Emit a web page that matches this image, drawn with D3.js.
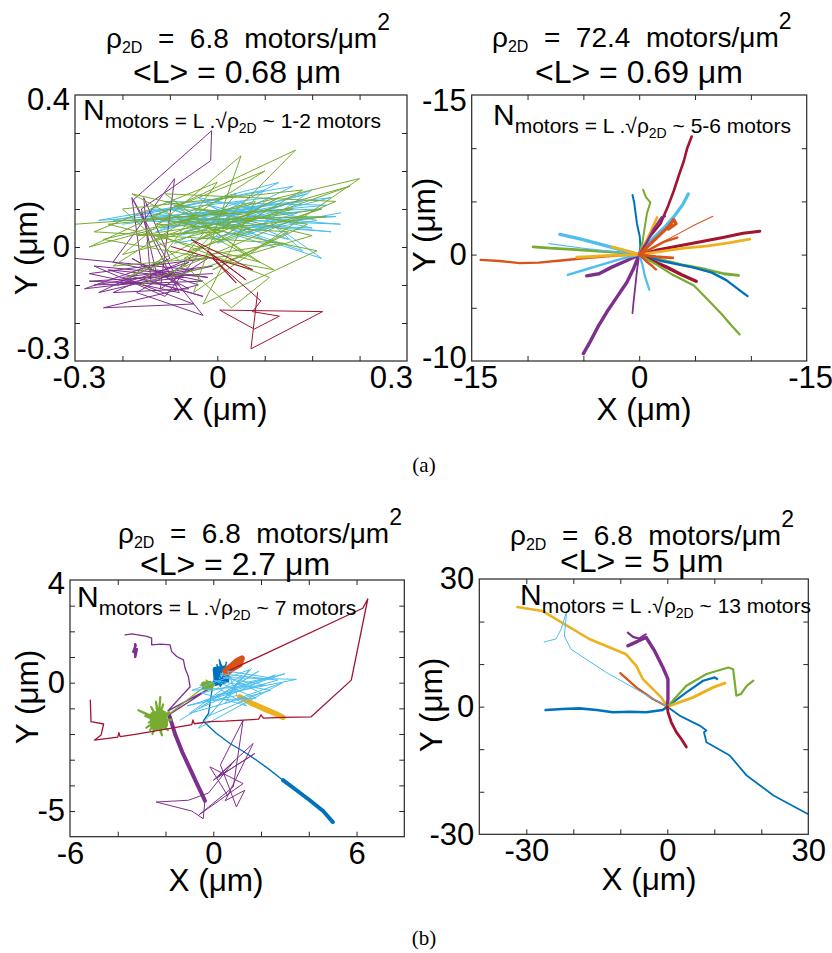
<!DOCTYPE html>
<html><head><meta charset="utf-8">
<script src="https://cdn.jsdelivr.net/npm/d3@7"></script>
<style>
html,body{margin:0;padding:0;background:#fff;}
svg{display:block;}
text{font-family:"Liberation Sans",Arial,Helvetica,sans-serif;fill:#000;white-space:pre;}
.cap{font-family:"Liberation Serif","Times New Roman",Times,serif;}
</style></head><body>
<svg id="fig" width="832" height="953"></svg>
<script>
// ---------- panel annotations ----------
const densities   = ["6.8", "72.4", "6.8", "6.8"];      // motors/μm²
const meanLengths = ["0.68", "0.69", "2.7", "5"];        // μm
const motorCounts = ["1-2", "5-6", "7", "13"];
const captions    = ["(a)", "(b)"];

// ---------- axes ----------
const xDomains = [[-0.3, 0.4], [-15, 15], [-6, 8], [-40, 30]];
const yDomains = [[-0.3, 0.4], [-10, 15], [-6, 4], [-30, 30]];
const xTicks = [[-0.2,-0.1,0,0.1,0.2,0.3], [-10,-5,0,5,10], [-4,-2,0,2,4,6], [-30,-20,-10,0,10,20]];
const yTicks = [[-0.2,-0.1,0,0.1,0.2,0.3], [-5,0,5,10], [-5,-4,-3,-2,-1,0,1,2,3], [-20,-10,0,10,20]];
const xTickLabels = [["-0.3","0","0.3"], ["-15","0","-15"], ["-6","0","6"], ["-30","0","30"]];
const xTickLabelAt = [[-0.292,0,0.366], [-14.7,0,15.3], [-6,0,6], [-30,0,30]];
const yTickLabels = [["-0.3","0","0.4"], ["-10","0","-15"], ["-5","0","4"], ["-30","0","30"]];
const yTickLabelAt = [[-0.266,0,0.387], [-9.7,0,14.5], [-5,0,3.88], [-30,0,30]];

// ---------- trajectories (x, y in μm) ----------
// panel 1: ρ = 6.8, <L> = 0.68 μm
const p1Cyan = [[-0.20,0.06],[0.18,0.12],[-0.12,0.05],[0.22,0.10],[-0.05,0.09],[0.26,0.06],[-0.15,0.08],[0.13,0.17],[-0.08,0.03],[0.24,0.13],[-0.18,0.07],[0.20,0.05],[-0.02,0.11],[0.15,0.02],[-0.10,0.10],[0.22,-0.03],[0.05,0.12],[-0.13,0.04],[0.19,0.14],[-0.06,0.06],[0.25,0.08],[-0.22,0.07],[0.10,0.15],[-0.01,0.02],[0.17,0.09],[-0.14,0.10],[0.12,0.00],[-0.04,0.13],[0.21,0.07],[-0.09,0.01],[0.16,0.16],[-0.25,0.07],[0.08,0.10],[0.18,-0.01],[-0.03,0.08],[0.23,0.11],[-0.11,0.12],[0.06,0.03],[0.20,0.15],[-0.07,0.04],[0.14,0.11],[0.02,0.06],[0.24,0.04],[-0.16,0.09],[0.11,0.13],[0.00,0.01],[0.19,0.08],[-0.12,0.07],[0.09,0.05],[0.26,0.09]];
const p1Purple = [[-0.30,-0.03],[-0.05,-0.06],[-0.26,-0.10],[-0.03,-0.09],[-0.22,-0.04],[-0.09,0.18],[-0.12,-0.11],[-0.02,-0.03],[-0.27,-0.07],[-0.08,-0.12],[-0.18,0.13],[-0.16,-0.05],[-0.04,-0.10],[-0.24,-0.16],[-0.05,-0.15],[-0.20,-0.08],[-0.01,-0.05],[-0.25,-0.12],[-0.10,-0.03],[-0.155,0.13],[-0.14,-0.09],[-0.03,-0.13],[-0.23,-0.06],[-0.07,-0.08],[-0.28,-0.11],[-0.12,-0.04],[-0.03,-0.18],[-0.17,-0.12],[-0.06,-0.04],[-0.21,-0.10],[-0.09,-0.07],[-0.177,0.124],[-0.012,0.306],[-0.014,0.227],[-0.16,0.10],[-0.13,-0.06],[-0.02,-0.08],[-0.26,-0.05],[-0.11,-0.13],[-0.04,-0.02],[-0.22,-0.12],[-0.06,-0.11],[-0.18,-0.03],[-0.08,-0.10],[-0.27,-0.09],[-0.01,-0.07]];
const p1Green = [[-0.30,0.06],[0.16,0.10],[-0.20,-0.02],[0.05,0.24],[-0.05,-0.12],[0.30,0.18],[-0.24,0.02],[0.12,-0.06],[-0.18,0.14],[0.20,0.03],[-0.10,-0.08],[0.165,0.255],[-0.27,0.00],[0.08,0.12],[-0.03,-0.15],[0.21,-0.01],[-0.14,0.08],[0.10,0.20],[-0.22,-0.05],[0.06,-0.02],[-0.11,0.14],[0.25,0.12],[-0.16,-0.10],[0.00,0.17],[-0.26,0.04],[0.14,0.01],[-0.07,-0.03],[0.18,0.15],[-0.20,0.10],[0.03,-0.16],[0.11,-0.08],[-0.12,0.03],[0.23,0.08],[-0.08,0.07],[0.07,0.05],[-0.19,-0.08],[0.13,0.13],[-0.04,0.02],[0.28,0.16],[-0.15,0.01],[0.02,0.09],[-0.23,0.06],[0.09,-0.04],[-0.09,0.11],[0.19,0.06],[-0.01,-0.06],[0.15,0.04],[-0.13,0.06],[0.04,0.14],[-0.06,-0.01],[0.22,0.10],[-0.17,0.03],[0.01,0.04]];
const p1Red = [[-0.097,0.001],[0.075,-0.06],[-0.055,0.02],[0.061,-0.087],[-0.02,-0.01],[0.04,-0.095],[-0.01,-0.03],[0.092,-0.142],[0.074,-0.17],[0.131,-0.182],[0.078,-0.216],[0.005,-0.166],[0.222,-0.17],[0.071,-0.268],[0.085,-0.12]];

// panel 2: ρ = 72.4, <L> = 0.69 μm (radial runs from the origin)
const p2RedNE = [[0,0],[0.8,1.5],[1.9,2.9],[2.6,4.6],[3.1,6.0],[3.6,7.6],[4.0,8.8],[4.3,10.0],[4.7,11.1]];
const p2CyanNE = [[0,0],[1.2,1.5],[2.3,2.6],[3.2,3.7],[3.9,4.7],[4.4,5.7]];
const p2BlueN = [[0,0],[0.1,0.8],[0.05,1.7],[-0.2,2.9],[-0.35,4.1],[-0.45,4.9],[-0.6,5.6]];
const p2GreenN = [[0,0],[0.3,1.2],[0.5,2.6],[0.7,3.9],[1.0,4.9],[0.6,5.4],[0.35,6.1]];
const p2YellowNE = [[0,0],[0.6,1.2],[1.1,2.3],[1.6,3.5]];
const p2PurpleNE = [[0,0],[0.7,1.2],[1.3,2.4],[2.0,3.5],[2.3,3.6]];
const p2OrangeNE = [[0,0],[0.9,0.9],[1.8,1.8],[2.6,2.6],[3.1,3.3],[3.3,2.9],[2.6,2.4]];
const p2OrangeNE2 = [[0,0],[1.6,0.9],[3.4,1.9],[5.0,2.8],[6.6,3.6]];
const p2OrangeNE3 = [[0,0],[1.0,0.5],[2.2,1.2],[3.4,1.6]];
const p2RedE = [[0,0],[1.5,0.4],[3.5,0.8],[5.5,1.2],[7.5,1.6],[9.3,2.0],[10.8,2.2]];
const p2YellowE = [[0,0],[2.0,0.3],[4.0,0.6],[6.0,0.8],[8.0,1.1],[9.9,1.45]];
const p2GreenE = [[0,0],[2.0,-0.5],[4.0,-1.0],[6.0,-1.4],[7.6,-1.8],[8.9,-1.95]];
const p2BlueESE = [[0,0],[2.0,-0.6],[4.8,-1.2],[6.5,-1.7],[7.8,-2.4],[8.8,-3.2],[9.7,-3.9]];
const p2RedSE = [[0,0],[1.2,-0.6],[2.5,-1.2],[3.8,-1.9],[5.1,-2.5]];
const p2GreenSE = [[0,0],[1.5,-0.9],[3.0,-1.9],[4.9,-2.9],[6.3,-4.4],[7.4,-5.6],[8.2,-6.6],[9.0,-7.5]];
const p2OrangeSE = [[0,0],[0.6,-0.6],[1.2,-1.1],[1.5,-1.4]];
const p2OrangeE = [[0,0],[1.5,-0.2],[3.0,-0.3]];
const p2PurpleSW = [[0,0],[-0.5,-1.3],[-1.1,-2.6],[-2.0,-4.0],[-2.9,-5.4],[-3.7,-6.8],[-4.4,-8.2],[-5.0,-9.3]];
const p2PurpleS = [[0,0],[-0.2,-1.5],[-0.35,-3.0],[-0.5,-4.4],[-0.6,-5.5]];
const p2CyanS = [[0,0],[0.3,-1.0],[0.5,-2.0],[0.75,-2.8],[0.9,-3.3]];
const p2PurpleWSW = [[0,0],[-1.2,-0.6],[-2.5,-1.2],[-3.6,-1.8],[-4.7,-2.0]];
const p2CyanWSW = [[0,0],[-1.6,-0.4],[-3.2,-0.9],[-4.8,-1.4],[-6.4,-1.9]];
const p2OrangeW = [[0,0],[-2.0,-0.1],[-4.5,-0.3],[-7.0,-0.55],[-9.0,-0.75],[-10.7,-0.8],[-12.5,-0.6],[-14.2,-0.5]];
const p2GreenW = [[0,0],[-2.0,0.2],[-4.0,0.35],[-6.0,0.5],[-8.0,0.6],[-9.5,0.72]];
const p2CyanW = [[0,0],[-1.8,0.5],[-3.6,1.0],[-5.4,1.5],[-7.1,1.9]];
const p2CyanW2 = [[0,0],[-2.5,0.3],[-5.0,0.6],[-8.1,1.03]];
const p2YellowW = [[0,0],[-0.8,0.25],[-1.6,0.5],[-2.45,0.72]];
const p2YellowW2 = [[0,0],[-1.5,-0.05],[-3.0,-0.1],[-4.5,-0.2],[-5.6,-0.25]];

// panel 3: ρ = 6.8, <L> = 2.7 μm
const p3Blue = [[0.3,0.2],[0.15,0.7],[0.35,0.3],[0.25,0.9],[0.45,0.4],[0.55,0.8],[0.4,0.1],[0.6,0.5],[0.2,0.0],[0.05,0.4],[0.3,-0.15],[0.5,0.25],[0.1,-0.1],[0.35,0.55],[0.0,0.05],[-0.2,-1.2],[-0.42,-1.5],[0.1,-1.95],[0.7,-2.37],[1.3,-2.7],[1.81,-3.02],[2.3,-3.35],[2.92,-3.8]];
const p3BlueCore = [[0.1,0.5],[0.5,0.55],[0.55,0.1],[0.15,0.0],[0.1,0.5]];
const p3BlueEnd = [[2.92,-3.8],[3.5,-4.2],[4.04,-4.58],[4.6,-5.0],[5.01,-5.43]];
const p3Orange = [[0.5,0.45],[0.75,0.65],[1.0,0.85],[1.2,0.95],[1.1,0.7],[0.8,0.55],[0.55,0.35]];
const p3Yellow = [[1.11,-0.55],[1.6,-0.8],[2.2,-1.05],[2.6,-1.2],[2.92,-1.35]];
const p3Purple = [[-3.69,1.86],[-3.4,1.9],[-3.1,1.85],[-2.78,1.80],[-2.58,1.74],[-2.58,1.47],[-2.2,1.5],[-1.81,1.47],[-1.74,1.21],[-1.53,1.02],[-1.25,0.89],[-1.18,0.56],[-1.04,0.23],[-0.97,-0.16],[-1.9,-1.1],[-0.2,-0.25],[-1.85,-1.25]];
const p3PurpleBlob = [[-3.27,1.5],[-3.27,1.0],[-3.2,1.3],[-3.35,1.2],[-3.25,1.45]];
const p3PurpleRun = [[-1.85,-1.25],[-1.6,-2.0],[-1.3,-2.7],[-1.0,-3.3],[-0.7,-3.9],[-0.42,-4.45],[-0.35,-4.6]];
const p3PurpleTail = [[-0.35,-4.6],[-0.42,-5.3],[-0.9,-5.0],[-2.39,-4.65],[-1.04,-4.58],[-0.2,-4.3],[0.9,-3.02],[0.21,-3.67],[1.74,-2.76],[0.0,-3.8],[1.67,-2.37],[0.5,-4.6],[1.32,-4.19],[0.97,-4.84],[0.3,-3.2],[1.25,-1.46],[0.84,-4.06],[-0.6,-5.15],[1.25,-3.93],[-0.14,-3.28],[0.6,-4.4]];
const p3GreenBlob = [[-2.30,-1.46],[-2.22,-0.56],[-2.28,-1.40],[-2.10,-0.85],[-2.32,-1.45],[-1.85,-1.15],[-2.28,-1.50],[-1.75,-1.45],[-2.30,-1.46],[-1.90,-1.85],[-2.35,-1.50],[-2.15,-2.05],[-2.30,-1.44],[-2.55,-2.00],[-2.32,-1.48],[-2.80,-1.75],[-2.28,-1.42],[-3.14,-1.07],[-2.33,-1.46],[-2.85,-1.30],[-2.30,-1.50],[-2.60,-0.95],[-2.31,-1.43],[-2.40,-0.75],[-2.25,-1.47],[-2.00,-1.25],[-2.30,-1.52],[-2.05,-1.70],[-2.34,-1.40],[-2.70,-1.55],[-2.28,-1.46],[-2.50,-1.20],[-2.30,-1.45],[-2.10,-1.60],[-2.35,-1.45],[-2.65,-1.85],[-2.30,-1.40],[-1.95,-1.35]];
const p3GreenCore = [[-2.48,-1.30],[-2.12,-1.25],[-2.08,-1.62],[-2.45,-1.68],[-2.48,-1.30]];
const p3GreenLink = [[-1.95,-1.3],[-0.28,-0.09],[-0.55,-0.1],[-0.1,0.05],[-0.45,-0.2],[0.05,-0.12],[-0.3,0.1],[-0.2,-0.25]];
const p3GreenCore2 = [[-0.4,-0.05],[-0.1,-0.05],[-0.1,-0.2],[-0.35,-0.2],[-0.4,-0.05]];
const p3Cyan = [[-1.39,-1.46],[1.9,0.45],[-0.6,-1.0],[2.6,0.3],[0.1,-0.5],[3.48,0.13],[0.4,0.2],[2.2,-0.1],[-0.9,-0.3],[1.5,0.5],[-0.63,-1.78],[2.9,0.0],[0.5,-0.8],[1.2,0.3],[-1.0,-1.2],[2.4,-0.3],[0.0,0.1],[1.8,-0.6],[-0.4,-0.7],[3.0,0.35],[0.8,-0.2],[1.6,0.55],[-0.2,-1.3],[2.0,-0.4],[0.3,0.35],[2.7,0.1],[-1.1,-0.9],[1.0,-0.5],[0.6,0.45],[2.3,0.2],[-0.5,-0.4],[1.4,-0.9],[0.2,-0.2]];
const p3Red = [[0.7,0.49],[6.26,2.9],[6.47,3.26],[5.78,0.10],[4.1,-1.33],[2.92,-1.35],[2.1,-1.38],[2.0,-1.25],[1.9,-1.42],[1.25,-1.46],[0.5,-1.5],[-0.14,-1.52],[-0.8,-1.6],[-0.85,-1.45],[-0.9,-1.63],[-1.81,-1.78],[-3.2,-2.0],[-3.9,-2.1],[-3.95,-1.95],[-4.0,-2.12],[-4.98,-2.24],[-4.7,-2.04],[-4.59,-1.61],[-5.12,-1.52],[-5.15,-0.68]];

// panel 4: ρ = 6.8, <L> = 5 μm
const p4BlueW = [[0,0],[-1.0,-0.8],[-4.5,-1.3],[-8.0,-1.2],[-11.6,-1.3],[-15.0,-0.8],[-18.7,-0.4],[-22.3,-0.55],[-25.9,-0.8]];
const p4BlueSE = [[0,0],[2.6,-2.1],[6.9,-4.45],[8.33,-5.6],[7.8,-6.0],[8.33,-8.36],[13.3,-11.5],[16.9,-16.2],[22.6,-20.9],[30.0,-25.3]];
const p4BlueNE = [[0,0],[4.06,3.36],[7.62,6.09],[10.1,6.88],[10.6,6.5]];
const p4GreenNE = [[0,0],[4.06,4.92],[8.33,7.66],[13.0,9.2],[14.0,8.8],[14.7,2.58],[15.7,3.0],[16.9,4.9],[18.3,6.1]];
const p4YellowNE = [[0,0],[5.48,2.19],[9.76,4.53],[12.25,5.55]];
const p4YellowNW = [[0,0],[-1.28,2.19],[-5.2,6.48],[-6.6,9.6],[-8.76,12.3],[-16.6,15.9],[-26.6,22.5],[-31.9,23.4]];
const p4CyanNW = [[0,0],[-6.5,4.0],[-13.0,8.05],[-20.5,13.5],[-21.9,16.6],[-21.4,22.5],[-22.6,18.2],[-23.7,15.9],[-26.2,15.2]];
const p4OrangeNW = [[0,0],[-3.06,1.8],[-6.6,4.53],[-10.0,7.89]];
const p4PurpleN = [[0,0],[0.14,1.8],[0.14,6.48],[-0.93,9.2],[-2.7,13.1],[-4.49,16.25],[-5.5,15.8],[-7.6,14.7],[-8.4,14.3]];
const p4PurpleFork = [[-8.4,17.4],[-7.3,16.4],[-6.0,16.0],[-4.6,17.0]];
const p4RedS = [[0,0],[0.14,-1.33],[0.85,-3.67],[1.92,-6.0],[2.99,-7.6],[4.06,-9.5]];

// ---------- drawing ----------
const C = {blue:"#0072BD", orange:"#D95319", yellow:"#EDB120", purple:"#7E2F8E",
           green:"#77AC30", cyan:"#4DBEEE", red:"#A2142F"};

const tracks = [
  [ {c:C.cyan, w:1, d:p1Cyan}, {c:C.purple, w:1, d:p1Purple}, {c:C.green, w:1, d:p1Green}, {c:C.red, w:1, d:p1Red} ],
  [ {c:C.red, w:2.6, d:p2RedNE}, {c:C.cyan, w:3.2, d:p2CyanNE}, {c:C.blue, w:2, d:p2BlueN}, {c:C.green, w:2, d:p2GreenN},
    {c:C.yellow, w:2.6, d:p2YellowNE}, {c:C.purple, w:2.4, d:p2PurpleNE}, {c:C.orange, w:1.1, d:p2OrangeNE2},
    {c:C.red, w:3, d:p2RedE}, {c:C.yellow, w:2.8, d:p2YellowE}, {c:C.green, w:2.8, d:p2GreenE},
    {c:C.blue, w:2.4, d:p2BlueESE}, {c:C.red, w:3.4, d:p2RedSE}, {c:C.green, w:2.2, d:p2GreenSE},
    {c:C.purple, w:3.4, d:p2PurpleSW}, {c:C.purple, w:1.8, d:p2PurpleS}, {c:C.cyan, w:2.2, d:p2CyanS},
    {c:C.purple, w:3.4, d:p2PurpleWSW}, {c:C.cyan, w:2.4, d:p2CyanWSW}, {c:C.orange, w:2.4, d:p2OrangeW},
    {c:C.green, w:2.8, d:p2GreenW}, {c:C.cyan, w:3.4, d:p2CyanW}, {c:C.cyan, w:1.1, d:p2CyanW2},
    {c:C.yellow, w:2.8, d:p2YellowW}, {c:C.yellow, w:2.8, d:p2YellowW2},
    {c:C.orange, w:2.4, d:p2OrangeSE}, {c:C.orange, w:2.8, d:p2OrangeE}, {c:C.orange, w:2.4, d:p2OrangeNE3},
    {c:C.orange, w:3.2, d:p2OrangeNE} ],
  [ {c:C.blue, w:1.4, d:p3Blue}, {c:C.blue, w:6, d:p3BlueCore}, {c:C.blue, w:4, d:p3BlueEnd},
    {c:C.orange, w:6, d:p3Orange}, {c:C.yellow, w:5.5, d:p3Yellow},
    {c:C.purple, w:1.3, d:p3Purple}, {c:C.purple, w:2.5, d:p3PurpleBlob},
    {c:C.purple, w:4, d:p3PurpleRun}, {c:C.purple, w:1, d:p3PurpleTail},
    {c:C.green, w:2.2, d:p3GreenBlob}, {c:C.green, w:9, d:p3GreenCore},
    {c:C.green, w:1.2, d:p3GreenLink}, {c:C.green, w:5, d:p3GreenCore2},
    {c:C.cyan, w:1, d:p3Cyan}, {c:C.red, w:1.3, d:p3Red} ],
  [ {c:C.blue, w:2.6, d:p4BlueW}, {c:C.blue, w:1.8, d:p4BlueSE}, {c:C.blue, w:2.2, d:p4BlueNE},
    {c:C.orange, w:2.2, d:p4OrangeNW}, {c:C.yellow, w:3, d:p4YellowNE}, {c:C.yellow, w:2.6, d:p4YellowNW},
    {c:C.purple, w:3.4, d:p4PurpleN}, {c:C.purple, w:2.2, d:p4PurpleFork},
    {c:C.green, w:2.2, d:p4GreenNE}, {c:C.cyan, w:1, d:p4CyanNW}, {c:C.red, w:2.8, d:p4RedS} ]
];

// plot boxes and text anchors (px)
const layout = [
  {left:75,    right:407,   top:95,  bottom:361,   t1:[106,48],  t2:[133,83],  n:[83,120],  xt:[220,420], yt:[37,248]},
  {left:471.7, right:806.7, top:95,  bottom:361,   t1:[492,47],  t2:[535,83],  n:[493,125], xt:[644,420], yt:[435,225]},
  {left:70,    right:404.3, top:580, bottom:836.7, t1:[118,543], t2:[140,575], n:[77,607],  xt:[216,891], yt:[38,697]},
  {left:479.3, right:808.3, top:579, bottom:834.3, t1:[510,545], t2:[560,572], n:[520,605], xt:[649,890], yt:[442,705]}
];

const svg = d3.select("#fig");
const FRAME = "#262626";

layout.forEach((L, i) => {
  const x = d3.scaleLinear().domain(xDomains[i]).range([L.left, L.right]);
  const y = d3.scaleLinear().domain(yDomains[i]).range([L.bottom, L.top]);
  const g = svg.append("g");

  g.append("clipPath").attr("id", "clip" + i)
    .append("rect").attr("x", L.left).attr("y", L.top)
    .attr("width", L.right - L.left).attr("height", L.bottom - L.top);

  const line = d3.line().x(d => x(d[0])).y(d => y(d[1]));
  g.append("g").attr("clip-path", `url(#clip${i})`)
    .selectAll("path").data(tracks[i]).join("path")
    .attr("d", t => line(t.d))
    .attr("fill", "none")
    .attr("stroke", t => t.c)
    .attr("stroke-width", t => t.w)
    .attr("stroke-linejoin", "round")
    .attr("stroke-linecap", "round");

  // inward ticks on all four sides
  const tk = 5;
  const sides = [
    [d3.axisBottom(x).tickValues(xTicks[i]), `translate(0,${L.bottom})`],
    [d3.axisTop(x).tickValues(xTicks[i]),    `translate(0,${L.top})`],
    [d3.axisLeft(y).tickValues(yTicks[i]),   `translate(${L.left},0)`],
    [d3.axisRight(y).tickValues(yTicks[i]),  `translate(${L.right},0)`]
  ];
  sides.forEach(([ax, tr]) => {
    const a = g.append("g").attr("transform", tr)
      .call(ax.tickSizeInner(-tk).tickSizeOuter(0).tickFormat(""));
    a.select(".domain").remove();
    a.selectAll("line").attr("stroke", FRAME).attr("stroke-width", 1);
  });

  g.append("rect").attr("x", L.left).attr("y", L.top)
    .attr("width", L.right - L.left).attr("height", L.bottom - L.top)
    .attr("fill", "none").attr("stroke", FRAME).attr("stroke-width", 1.2);

  // tick labels
  const xl = g.append("g").attr("transform", `translate(0,${L.bottom})`)
    .call(d3.axisBottom(x).tickValues(xTickLabelAt[i])
      .tickFormat((d, k) => xTickLabels[i][k]).tickSize(0).tickPadding(5));
  const yl = g.append("g").attr("transform", `translate(${L.left},0)`)
    .call(d3.axisLeft(y).tickValues(yTickLabelAt[i])
      .tickFormat((d, k) => yTickLabels[i][k]).tickSize(0).tickPadding(5));
  [xl, yl].forEach(a => {
    a.select(".domain").remove();
    a.attr("font-family", null).attr("font-size", null);
    a.selectAll("text").attr("font-size", 31).attr("fill", "#000");
  });

  // axis titles
  g.append("text").attr("x", L.xt[0]).attr("y", L.xt[1])
    .attr("text-anchor", "middle").attr("font-size", 31.5).text("X (μm)");
  g.append("text").attr("transform", `translate(${L.yt[0]},${L.yt[1]}) rotate(-90)`)
    .attr("text-anchor", "middle").attr("font-size", 31.5).text("Y (μm)");

  // title: density and mean length
  const t1 = g.append("text").attr("x", L.t1[0]).attr("y", L.t1[1]).attr("font-size", 28);
  t1.append("tspan").text("ρ");
  t1.append("tspan").attr("font-size", 16).attr("dy", 5).text("2D");
  t1.append("tspan").attr("dy", -5).text(`  =  ${densities[i]}  motors/μm`);
  t1.append("tspan").attr("font-size", 23).attr("dy", -18).text("2");

  g.append("text").attr("x", L.t2[0]).attr("y", L.t2[1]).attr("font-size", 32)
    .text(`<L> = ${meanLengths[i]} μm`);

  // motor count annotation
  const n = g.append("text").attr("x", L.n[0]).attr("y", L.n[1]).attr("font-size", 30);
  n.append("tspan").text("N");
  n.append("tspan").attr("font-size", 21).attr("dy", 8).text("motors = L .√ρ");
  n.append("tspan").attr("font-size", 14).attr("dy", 5).text("2D");
  n.append("tspan").attr("font-size", 21).attr("dy", -5).text(` ~ ${motorCounts[i]} motors`);
});

// figure captions
svg.append("text").attr("class", "cap").attr("x", 424).attr("y", 472)
  .attr("text-anchor", "middle").attr("font-size", 21).text(captions[0]);
svg.append("text").attr("class", "cap").attr("x", 424).attr("y", 945)
  .attr("text-anchor", "middle").attr("font-size", 21).text(captions[1]);
</script>
</body></html>
